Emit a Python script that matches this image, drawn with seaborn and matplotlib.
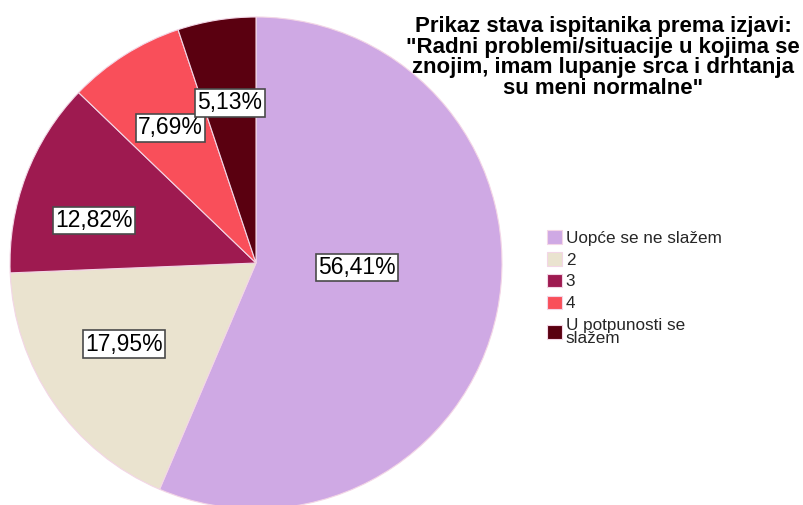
import numpy as np
import matplotlib
matplotlib.use("Agg")
import matplotlib.pyplot as plt
import seaborn as sns

# ---- data ----
categories = ["Uopće se ne slažem", "2", "3", "4", "U potpunosti se\nslažem"]
percentages = [56.41, 17.95, 12.82, 7.69, 5.13]
pct_labels = ["56,41%", "17,95%", "12,82%", "7,69%", "5,13%"]
colors = ["#CFA9E4", "#EAE3CF", "#9E1A50", "#F94F5A", "#5A0010"]
title = ('Prikaz stava ispitanika prema izjavi:\n"Radni problemi/situacije u kojima se\n'
         'znojim, imam lupanje srca i drhtanja\nsu meni normalne"')

sns.set_theme(style="white")
plt.rcParams["font.family"] = ["Liberation Sans", "DejaVu Sans"]

W, H = 804, 505
fig = plt.figure(figsize=(W / 100, H / 100), dpi=100)
ax = fig.add_axes([0, 0, 1, 1])

palette = sns.color_palette(colors)
cx, cy, R = 256, H - 263, 246
wedges, _ = ax.pie(percentages, colors=palette, startangle=90, counterclock=False,
                   center=(cx, cy), radius=R,
                   wedgeprops=dict(edgecolor="#f3d6e6", linewidth=0.8))
ax.set_xlim(0, W)
ax.set_ylim(0, H)
ax.set_aspect("equal")
ax.axis("off")

# label placement (radial fraction, angle shift in degrees)
label_r = [0.41, 0.63, 0.68, 0.65, 0.66]
label_shift = [9, -3, 6, 0, 0]
for w, lab, r, sh in zip(wedges, pct_labels, label_r, label_shift):
    ang = np.deg2rad((w.theta1 + w.theta2) / 2 + sh)
    ax.text(cx + r * R * np.cos(ang), cy + r * R * np.sin(ang), lab,
            ha="center", va="center", fontsize=16.5, color="black",
            bbox=dict(boxstyle="square,pad=0.1", fc="white", ec="#4a4a4a", lw=1.2))

fig.text(603 / W, 1 - 16 / H, title, ha="center", va="top", fontsize=16,
         fontweight="bold", linespacing=0.97, color="black")

leg = fig.legend(wedges, categories, loc="upper left",
                 bbox_to_anchor=(547 / W, 1 - 230 / H), frameon=False,
                 fontsize=12.3, handlelength=0.85, handleheight=0.85,
                 handletextpad=0.25, labelspacing=0.36, borderpad=0,
                 borderaxespad=0)
for t in leg.get_texts():
    t.set_linespacing(0.85)

fig.savefig("out.png", dpi=100, facecolor="white")
